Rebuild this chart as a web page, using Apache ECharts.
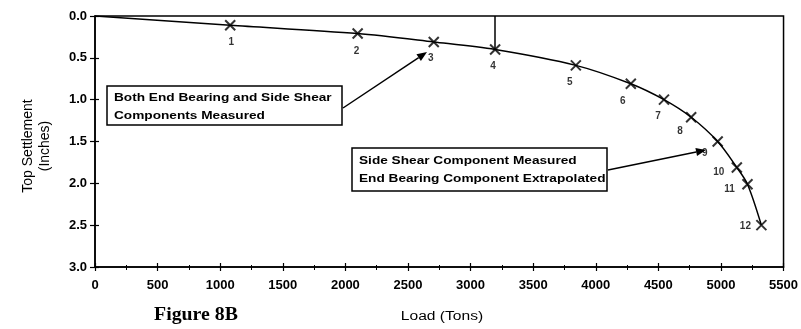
<!DOCTYPE html>
<html>
<head>
<meta charset="utf-8">
<script src="https://cdn.jsdelivr.net/npm/echarts@6/dist/echarts.min.js"></script>
<style>html,body{margin:0;padding:0;background:#fff}#c{width:801px;height:329px}</style>
</head>
<body>
<div id="c"></div>
<script>
// ---- data ----
const pointLabels = ['1','2','3','4','5','6','7','8','9','10','11','12'];
const loadTons = [1080, 2098, 2706, 3196, 3841, 4280, 4545, 4762, 4974, 5127, 5212, 5323];
const settlementIn = [0.11, 0.21, 0.31, 0.40, 0.59, 0.81, 1.00, 1.21, 1.50, 1.81, 2.01, 2.50];
const curveStart = [0, 0];
const xTicks = [0, 500, 1000, 1500, 2000, 2500, 3000, 3500, 4000, 4500, 5000, 5500];
const yTicks = [0.0, 0.5, 1.0, 1.5, 2.0, 2.5, 3.0];
const note1 = ['Both End Bearing and Side Shear', 'Components Measured'];
const note2 = ['Side Shear Component Measured', 'End Bearing Component Extrapolated'];

// ---- chart ----
const chart = echarts.init(document.getElementById('c'), null, {renderer: 'canvas'});
const labelOffsets = [[1,17],[-1,18],[-3,16],[-2,17],[-6,17],[-8,17],[-6,17],[-11,14],[-13,12],[-18,5],[-18,5],[-16,1]];
const curveData = [curveStart].concat(loadTons.map((x, i) => [x, settlementIn[i]]));
const pointData = loadTons.map((x, i) => ({
  value: [x, settlementIn[i]],
  label: {offset: labelOffsets[i]},
  name: pointLabels[i]
}));
const font = 'Liberation Sans, Arial, sans-serif';

function arrow(x1, y1, x2, y2) {
  const a = Math.atan2(y2 - y1, x2 - x1), L = 10, W = 4;
  const bx = x2 - L * Math.cos(a), by = y2 - L * Math.sin(a);
  return [
    {type: 'line', shape: {x1: x1, y1: y1, x2: bx, y2: by}, style: {stroke: '#000', lineWidth: 1.5}},
    {type: 'polygon', shape: {points: [[x2, y2], [bx - W * Math.sin(a), by + W * Math.cos(a)], [bx + W * Math.sin(a), by - W * Math.cos(a)]]}, style: {fill: '#000'}}
  ];
}
function noteBox(x, y, w, h, lines, y1, y2) {
  const t = (txt, ty) => ({type: 'text', x: 7, y: ty, scaleX: 1.3,
    style: {text: txt, font: 'bold 10.5px ' + font, fill: '#000', textVerticalAlign: 'middle'}});
  return {
    type: 'group', x: x, y: y,
    children: [
      {type: 'rect', shape: {x: 0, y: 0, width: w, height: h}, style: {fill: '#fff', stroke: '#000', lineWidth: 1.5}},
      t(lines[0], y1), t(lines[1], y2)
    ]
  };
}

const tickLabel = {color: '#000', fontFamily: font, fontSize: 13, fontWeight: 'bold'};
const option = {
  animation: false,
  backgroundColor: '#fff',
  grid: {left: 95, right: 13, top: 16, bottom: 62, show: true, borderColor: '#000', borderWidth: 1.5, backgroundColor: 'transparent'},
  xAxis: [{
    type: 'value', min: xTicks[0], max: xTicks[xTicks.length - 1], interval: 500, position: 'bottom',
    axisLine: {onZero: false, lineStyle: {color: '#000', width: 1.5}},
    axisTick: {show: true, length: 4, lineStyle: {color: '#000', width: 1.2}},
    minorTick: {show: true, splitNumber: 2, length: 3, lineStyle: {color: '#000', width: 1}},
    splitLine: {show: false},
    axisLabel: Object.assign({margin: 12, showMaxLabel: true, formatter: v => String(v)}, tickLabel)
  }, {
    type: 'value', min: xTicks[0], max: xTicks[xTicks.length - 1], interval: 500, position: 'bottom',
    axisLine: {show: false, onZero: false},
    axisTick: {show: true, inside: true, length: 4, lineStyle: {color: '#000', width: 1.2}},
    minorTick: {show: true, splitNumber: 2, length: 2, lineStyle: {color: '#000', width: 1}},
    splitLine: {show: false}, axisLabel: {show: false}
  }],
  yAxis: [{
    type: 'value', inverse: true, min: yTicks[0], max: yTicks[yTicks.length - 1], interval: 0.5, position: 'left',
    axisLine: {onZero: false, lineStyle: {color: '#000', width: 1.5}},
    axisTick: {show: true, length: 5, lineStyle: {color: '#000', width: 1.2}},
    splitLine: {show: false},
    axisLabel: Object.assign({margin: 8, formatter: v => v.toFixed(1)}, tickLabel)
  }, {
    type: 'value', inverse: true, min: yTicks[0], max: yTicks[yTicks.length - 1], interval: 0.5, position: 'left',
    axisLine: {show: false, onZero: false},
    axisTick: {show: true, inside: true, length: 4, lineStyle: {color: '#000', width: 1.2}},
    splitLine: {show: false}, axisLabel: {show: false}
  }],
  series: [
    {
      type: 'line', data: curveData, smooth: 0.3, showSymbol: false,
      lineStyle: {color: '#000', width: 1.5},
      markLine: {
        silent: true, symbol: ['none', 'none'],
        lineStyle: {color: '#000', width: 1.5, type: 'solid'}, label: {show: false},
        data: [[{coord: [loadTons[3], yTicks[0]]}, {coord: [loadTons[3], settlementIn[3]]}]]
      },
      z: 2
    },
    {
      type: 'scatter', data: pointData,
      symbol: 'path://M0,0L10,10M10,0L0,10', symbolSize: 10,
      itemStyle: {color: 'transparent', borderColor: '#000', borderWidth: 2},
      label: {show: true, position: 'inside', formatter: p => p.name, color: '#000', fontFamily: font, fontSize: 10, fontWeight: 'bold'},
      z: 3
    }
  ],
  graphic: [
    noteBox(107, 86, 235, 39, note1, 12.5, 30),
    noteBox(352, 148, 255, 43, note2, 13, 31)
  ].concat(arrow(343, 108, 427, 52), arrow(608, 170, 706, 150), [
    {type: 'text', x: 28, y: 146, rotation: Math.PI / 2, style: {text: 'Top Settlement', font: '14px ' + font, fill: '#000', textAlign: 'center', textVerticalAlign: 'middle'}},
    {type: 'text', x: 45, y: 146, rotation: Math.PI / 2, style: {text: '(Inches)', font: '14px ' + font, fill: '#000', textAlign: 'center', textVerticalAlign: 'middle'}},
    {type: 'text', x: 442, y: 317, scaleX: 1.3, style: {text: 'Load (Tons)', font: '12px ' + font, fill: '#000', textAlign: 'center', textVerticalAlign: 'middle'}},
    {type: 'text', x: 196, y: 315, scaleX: 1.1, style: {text: 'Figure 8B', font: 'bold 18px Liberation Serif, Times New Roman, serif', fill: '#000', textAlign: 'center', textVerticalAlign: 'middle'}}
  ])
};
chart.setOption(option);
</script>
</body>
</html>
